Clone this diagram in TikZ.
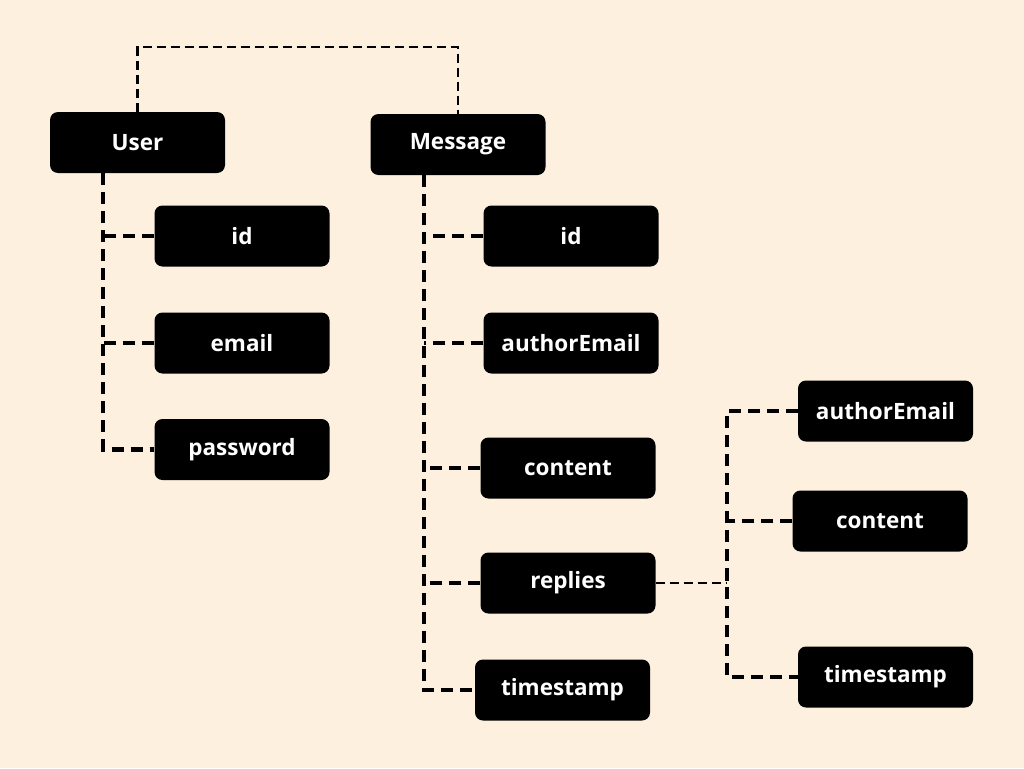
\documentclass[tikz,border=0pt]{standalone}
\usepackage{fontspec}
\setmainfont{Open Sans}
\usepackage{tikz}
\definecolor{paper}{HTML}{FEF0DE}
\begin{document}
\begin{tikzpicture}[x=1pt,y=-1pt]
\tikzstyle{field}=[fill=black,text=white,rounded corners=8pt,minimum width=175pt,minimum height=61pt,inner sep=0pt,font=\fontsize{22.5}{26}\selectfont\bfseries]
\tikzstyle{link}=[black,line width=4.2pt,dash pattern=on 12pt off 7pt]
\tikzstyle{thinlink}=[black,line width=2.6pt,dash pattern=on 9pt off 5pt]
\fill [paper] (0,0) rectangle (1024,768);
\useasboundingbox (0,0) rectangle (1024,768);
\node [field] (user) at (137.5,142.5) {User};
\node [field] (msg) at (458,144.5) {Message};
\node [field] (uid) at (242,236) {id};
\node [field] (uemail) at (242,343) {email};
\node [field] (upass) at (242,449.5) {password};
\node [field] (mid) at (571,236) {id};
\node [field] (mauthor) at (571,343) {authorEmail};
\node [field] (mcontent) at (568,468) {content};
\node [field] (mreplies) at (568,583) {replies};
\node [field] (mtime) at (562.5,690) {timestamp};
\node [field] (rauthor) at (885.5,411) {authorEmail};
\node [field] (rcontent) at (880,521) {content};
\node [field] (rtime) at (885.5,677) {timestamp};
\coordinate (top) at (300,47);
\coordinate (utrunk) at (103,300);
\coordinate (mtrunk) at (424,300);
\coordinate (rtrunk) at (727,580);
\draw [thinlink] (user.north) |- (top) -| (msg.north);
\draw [link] (user.south -| utrunk) |- (upass);
\draw [link] (uid) -- (uid -| utrunk);
\draw [link] (uemail) -- (uemail -| utrunk);
\draw [link] (msg.south -| mtrunk) |- (mtime);
\draw [link] (mid) -- (mid -| mtrunk);
\draw [link] (mauthor) -- (mauthor -| mtrunk);
\draw [link] (mcontent) -- (mcontent -| mtrunk);
\draw [link] (mreplies) -- (mreplies -| mtrunk);
\draw [thinlink] (mreplies) -- (mreplies -| rtrunk);
\draw [link] (rauthor) -| (rtrunk) |- (rtime);
\draw [link] (rcontent) -- (rcontent -| rtrunk);
\end{tikzpicture}
\end{document}
